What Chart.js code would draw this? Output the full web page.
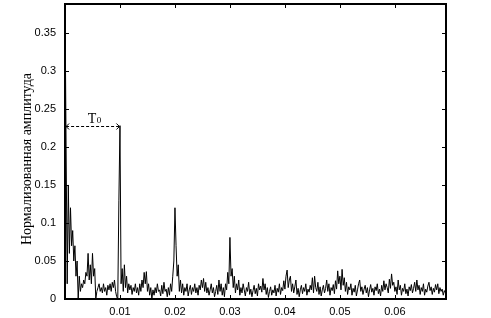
<!DOCTYPE html>
<html>
<head>
<meta charset="utf-8">
<script src="https://cdn.jsdelivr.net/npm/chart.js@4.4.0/dist/chart.umd.min.js"></script>
<style>
  html, body { margin: 0; padding: 0; background: #fff; }
  #wrap { width: 491px; height: 318px; }
</style>
</head>
<body>
<div id="wrap"><canvas id="myChart" width="491" height="318"></canvas></div>
<script>
// normalized amplitude, sampled every 0.0002 on the x axis
const amp = [
  0.39, 0.20, 0.02, 0.15, 0.06, 0.12, 0.07, 0.09, 0.05, 0.07,
  0.03, 0.05, 0.0, 0.03, 0.01, 0.02, 0.015, 0.025, 0.02, 0.035,
  0.03, 0.06, 0.025, 0.045, 0.02, 0.06, 0.03, 0.04, 0.0, 0.01,
  0.015, 0.02, 0.01, 0.015, 0.008, 0.02, 0.01, 0.015, 0.005, 0.018,
  0.012, 0.02, 0.01, 0.022, 0.015, 0.025, 0.01, 0.003, 0.0, 0.13,
  0.228, 0.02, 0.04, 0.01, 0.045, 0.015, 0.03, 0.008, 0.02, 0.012,
  0.018, 0.006, 0.015, 0.01, 0.02, 0.008, 0.015, 0.005, 0.02, 0.01,
  0.025, 0.015, 0.035, 0.02, 0.036, 0.01, 0.02, 0.005, 0.015, 0.0,
  0.012, 0.005, 0.015, 0.008, 0.02, 0.01, 0.012, 0.004, 0.018, 0.007,
  0.022, 0.01, 0.013, 0.003, 0.015, 0.005, 0.02, 0.01, 0.03, 0.05,
  0.12, 0.07, 0.03, 0.045, 0.01, 0.025, 0.008, 0.02, 0.005, 0.015,
  0.01, 0.02, 0.004, 0.012, 0.018, 0.006, 0.015, 0.01, 0.02, 0.008,
  0.015, 0.005, 0.018, 0.012, 0.025, 0.015, 0.027, 0.01, 0.022, 0.008,
  0.015, 0.005, 0.012, 0.02, 0.008, 0.015, 0.003, 0.01, 0.018, 0.006,
  0.025, 0.01, 0.02, 0.005, 0.015, 0.003, 0.02, 0.012, 0.035, 0.02,
  0.081, 0.03, 0.04, 0.015, 0.03, 0.008, 0.02, 0.012, 0.025, 0.005,
  0.015, 0.008, 0.02, 0.012, 0.004, 0.015, 0.01, 0.022, 0.006, 0.013,
  0.003, 0.011, 0.018, 0.007, 0.014, 0.004, 0.02, 0.012, 0.017, 0.009,
  0.027, 0.012, 0.02, 0.006, 0.015, 0.002, 0.01, 0.016, 0.005, 0.012,
  0.008, 0.018, 0.004, 0.014, 0.009, 0.02, 0.006, 0.015, 0.011, 0.024,
  0.013, 0.03, 0.038, 0.015, 0.025, 0.03, 0.01, 0.02, 0.008, 0.016,
  0.025, 0.006, 0.014, 0.003, 0.012, 0.018, 0.007, 0.015, 0.01, 0.02,
  0.005, 0.013, 0.009, 0.018, 0.012, 0.028, 0.008, 0.03, 0.015, 0.01,
  0.022, 0.006, 0.016, 0.004, 0.012, 0.018, 0.008, 0.014, 0.025, 0.01,
  0.02, 0.005, 0.015, 0.011, 0.019, 0.007, 0.024, 0.013, 0.037, 0.02,
  0.03, 0.012, 0.039, 0.018, 0.028, 0.01, 0.022, 0.006, 0.016, 0.012,
  0.02, 0.005, 0.014, 0.009, 0.018, 0.004, 0.012, 0.02, 0.025, 0.01,
  0.016, 0.006, 0.013, 0.018, 0.008, 0.015, 0.003, 0.012, 0.019, 0.009,
  0.014, 0.005, 0.016, 0.011, 0.02, 0.007, 0.013, 0.004, 0.018, 0.01,
  0.024, 0.012, 0.02, 0.015, 0.008, 0.026, 0.014, 0.033, 0.018, 0.022,
  0.01, 0.016, 0.006, 0.025, 0.012, 0.018, 0.005, 0.014, 0.01, 0.02,
  0.007, 0.013, 0.004, 0.016, 0.011, 0.019, 0.008, 0.014, 0.022, 0.01,
  0.025, 0.012, 0.018, 0.006, 0.015, 0.01, 0.02, 0.005, 0.013, 0.009,
  0.017, 0.022, 0.011, 0.016, 0.006, 0.014, 0.009, 0.019, 0.012, 0.02,
  0.007, 0.015, 0.01, 0.013, 0.005, 0.011, 0.008
];
const freqStep = 0.0002;
const freq = amp.map((_, i) => i * freqStep);

const xTicks = [0.01, 0.02, 0.03, 0.04, 0.05, 0.06];
const xTickLabels = ["0.01", "0.02", "0.03", "0.04", "0.05", "0.06"];
const yTicks = [0, 0.05, 0.1, 0.15, 0.2, 0.25, 0.3, 0.35];
const yTickLabels = ["0", "0.05", "0.1", "0.15", "0.2", "0.25", "0.3", "0.35"];

const yTitle = "Нормализованная амплитуда";
// T0 arrow: from the first peak to the peak at 0.01
const periodStart = 0.0002;
const periodEnd = 0.0099;
const periodLevel = 0.228;

const tickFont = { family: "Liberation Sans", size: 11 };

// MATLAB style frame, inward ticks, T0 arrow and y title
const framePlugin = {
  id: "frame",
  afterDraw(chart) {
    const ctx = chart.ctx;
    const a = chart.chartArea;
    const xs = chart.scales.x, ys = chart.scales.y;
    ctx.save();
    ctx.strokeStyle = "#000";
    ctx.lineWidth = 2;
    ctx.strokeRect(a.left, a.top, a.right - a.left, a.bottom - a.top);

    ctx.lineWidth = 1;
    ctx.beginPath();
    xTicks.forEach(v => {
      const px = Math.round(xs.getPixelForValue(v)) + 0.5;
      ctx.moveTo(px, a.bottom); ctx.lineTo(px, a.bottom - 4);
      ctx.moveTo(px, a.top); ctx.lineTo(px, a.top + 4);
    });
    yTicks.forEach(v => {
      const py = Math.round(ys.getPixelForValue(v)) + 0.5;
      ctx.moveTo(a.left, py); ctx.lineTo(a.left + 4, py);
      ctx.moveTo(a.right, py); ctx.lineTo(a.right - 4, py);
    });
    ctx.stroke();

    // dashed double arrow
    const x1 = xs.getPixelForValue(periodStart);
    const x2 = xs.getPixelForValue(periodEnd);
    const y = Math.round(ys.getPixelForValue(periodLevel)) + 0.5;
    ctx.setLineDash([3, 2]);
    ctx.beginPath();
    ctx.moveTo(x1, y); ctx.lineTo(x2, y);
    ctx.stroke();
    ctx.setLineDash([]);
    ctx.beginPath();
    ctx.moveTo(x1 + 3, y - 3); ctx.lineTo(x1, y); ctx.lineTo(x1 + 3, y + 3);
    ctx.moveTo(x2 - 3, y - 3); ctx.lineTo(x2, y); ctx.lineTo(x2 - 3, y + 3);
    ctx.stroke();

    ctx.fillStyle = "#000";
    ctx.textBaseline = "alphabetic";
    ctx.textAlign = "left";
    const mid = (x1 + x2) / 2;
    ctx.font = "14px 'Liberation Serif'";
    ctx.fillText("T", mid - 5, y - 4);
    ctx.font = "9px 'Liberation Serif'";
    ctx.fillText("0", mid + 4, y - 4);

    // y axis title
    ctx.font = "14px 'Liberation Serif'";
    ctx.textAlign = "center";
    ctx.textBaseline = "middle";
    ctx.translate(27, 159);
    ctx.rotate(-Math.PI / 2);
    ctx.fillText(yTitle, 0, 0);
    ctx.restore();
  }
};

const ctx = document.getElementById("myChart").getContext("2d");
const myChart = new Chart(ctx, {
  type: "line",
  data: {
    datasets: [{
      data: freq.map((f, i) => ({ x: f, y: amp[i] })),
      borderColor: "#000",
      borderWidth: 1,
      pointRadius: 0,
      tension: 0,
      fill: false
    }]
  },
  options: {
    responsive: false,
    animation: false,
    layout: { padding: { top: 4, right: 45, left: 0, bottom: 0 } },
    plugins: { legend: { display: false }, tooltip: { enabled: false } },
    scales: {
      x: {
        type: "linear",
        min: 0,
        max: 0.0693,
        grid: { display: false },
        border: { display: false },
        afterBuildTicks: s => { s.ticks = xTicks.map(v => ({ value: v })); },
        afterFit: s => {
          s.height = 19;
          s.paddingLeft = 0; s.paddingRight = 0;
          s.paddingTop = 0; s.paddingBottom = 0;
        },
        ticks: {
          color: "#000",
          font: tickFont,
          padding: -2,
          maxRotation: 0,
          autoSkip: false,
          callback: (v, i) => xTickLabels[i]
        }
      },
      y: {
        min: 0,
        max: 0.388,
        grid: { display: false },
        border: { display: false },
        afterBuildTicks: s => { s.ticks = yTicks.map(v => ({ value: v })); },
        afterFit: s => {
          s.width = 65;
          s.paddingLeft = 0; s.paddingRight = 0;
          s.paddingTop = 0; s.paddingBottom = 0;
        },
        ticks: {
          color: "#000",
          font: tickFont,
          padding: 1,
          autoSkip: false,
          callback: (v, i) => yTickLabels[i]
        }
      }
    }
  },
  plugins: [framePlugin]
});
</script>
</body>
</html>
